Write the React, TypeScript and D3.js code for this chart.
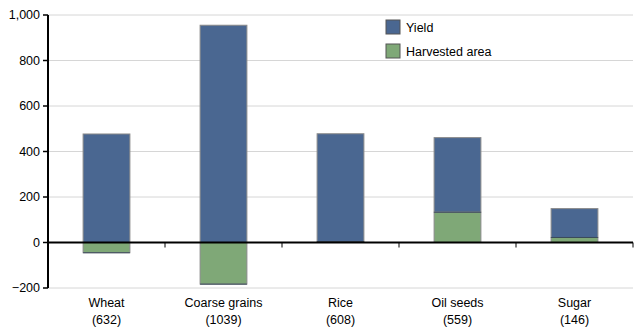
import React from "react";
import * as d3 from "d3";

const categories = ["Wheat", "Coarse grains", "Rice", "Oil seeds", "Sugar"];
const counts = ["(632)", "(1039)", "(608)", "(559)", "(146)"];
const harvestedArea = [-45, -183, 4, 133, 22];
const yieldVals = [477, 955, 474, 328, 127];
const yTicks = [-200, 0, 200, 400, 600, 800, 1000];
const seriesNames = ["Yield", "Harvested area"];
const seriesColors = ["#4a6791", "#7fa877"];

const W = 640;
const H = 332;
const margin = { left: 48, right: 7, top: 15, bottom: 44 };

export default function App() {
  const x = d3
    .scaleBand<string>()
    .domain(categories)
    .range([margin.left, W - margin.right])
    .paddingInner(0.6)
    .paddingOuter(0.3);
  const xb = d3.scaleBand<string>().domain(categories).range([margin.left, W - margin.right]);
  const y = d3.scaleLinear().domain([-200, 1000]).range([H - margin.bottom, margin.top]);
  const font = "Liberation Sans, Arial, sans-serif";

  const bars: React.ReactNode[] = [];
  categories.forEach((c, i) => {
    const ha = harvestedArea[i];
    const yv = yieldVals[i];
    const x0 = x(c)!;
    const bw = x.bandwidth();
    // harvested area
    const haTop = y(Math.max(0, ha));
    const haBot = y(Math.min(0, ha));
    // yield stacked on positive side
    const yBase = ha > 0 ? ha : 0;
    const yTop = y(yBase + yv);
    const yBot = y(yBase);
    bars.push(
      <g key={c}>
        <rect x={x0} y={yTop} width={bw} height={yBot - yTop} fill={seriesColors[0]} stroke="#8a8a8a" strokeWidth={1} />
        <rect x={x0} y={haTop} width={bw} height={Math.max(0.5, haBot - haTop)} fill={seriesColors[1]} stroke="#8a8a8a" strokeWidth={1} />
        <line x1={x0} x2={x0 + bw} y1={ha >= 0 ? haTop : haBot} y2={ha >= 0 ? haTop : haBot} stroke="#3a4a5a" strokeWidth={1} />
      </g>
    );
  });

  return (
    <svg width={W} height={H} style={{ position: "absolute", left: 0, top: 0, background: "#fff" }}>
      {yTicks.map((t) => (
        <line key={"g" + t} x1={margin.left} x2={W - margin.right} y1={y(t)} y2={y(t)} stroke="#d6d6d6" strokeWidth={1} />
      ))}
      {bars}
      {/* y axis */}
      <line x1={margin.left} x2={margin.left} y1={y(-200)} y2={y(1000)} stroke="#000" strokeWidth={2} />
      {yTicks.map((t) => (
        <g key={"t" + t}>
          <line x1={margin.left - 5} x2={margin.left} y1={y(t)} y2={y(t)} stroke="#000" strokeWidth={1.5} />
          <text x={margin.left - 8} y={y(t)} dy="0.35em" textAnchor="end" fontFamily={font} fontSize={12.5} fill="#000">
            {d3.format(",")(t)}
          </text>
        </g>
      ))}
      {/* x axis */}
      <line x1={margin.left} x2={W - margin.right} y1={y(0)} y2={y(0)} stroke="#000" strokeWidth={2} />
      {categories.map((c) => (
        <line key={"xt" + c} x1={xb(c)! + xb.bandwidth()} x2={xb(c)! + xb.bandwidth()} y1={y(0)} y2={y(0) + 5} stroke="#000" strokeWidth={1} />
      ))}
      {categories.map((c, i) => (
        <text key={"xl" + c} x={xb(c)! + xb.bandwidth() / 2} textAnchor="middle" fontFamily={font} fontSize={12.5} fill="#000">
          <tspan x={xb(c)! + xb.bandwidth() / 2} y={307}>{c}</tspan>
          <tspan x={xb(c)! + xb.bandwidth() / 2} y={324}>{counts[i]}</tspan>
        </text>
      ))}
      {/* legend */}
      {seriesNames.map((s, i) => (
        <g key={s} transform={`translate(386, ${20 + i * 24})`}>
          <rect x={0} y={0} width={14} height={14} fill={seriesColors[i]} stroke="#555" strokeWidth={1} />
          <text x={20} y={12} fontFamily={font} fontSize={12.5} fill="#000">{s}</text>
        </g>
      ))}
    </svg>
  );
}
